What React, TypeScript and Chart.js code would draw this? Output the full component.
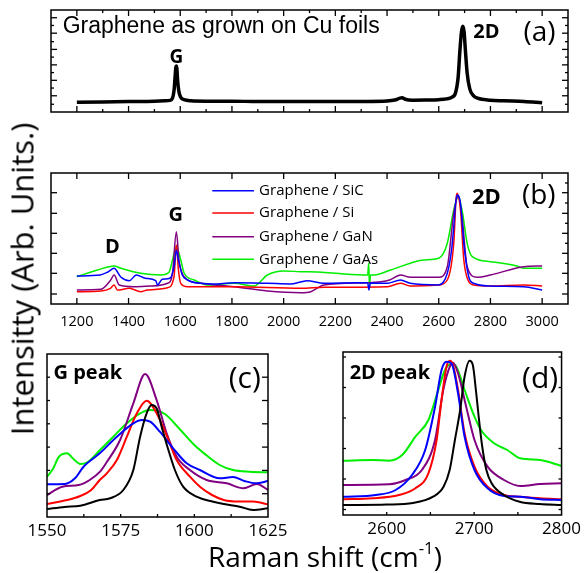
import React, { useEffect, useRef } from "react";
import { Chart, registerables } from "chart.js";

Chart.register(...registerables);

// ---------------- data (Raman shift in cm^-1, intensity in arbitrary units) ----------------
// (a) graphene as grown on Cu foils
const aCuShift = [1200, 1300, 1400, 1500, 1540, 1560, 1570, 1576, 1580, 1583, 1585, 1587, 1590, 1595, 1602, 1615, 1640, 1700, 1800, 1900, 2000, 2100, 2200, 2300, 2400, 2430, 2450, 2458, 2470, 2500, 2550, 2600, 2630, 2650, 2665, 2675, 2682, 2688, 2693, 2698, 2703, 2710, 2720, 2735, 2750, 2800, 2850, 2930, 3000];
const aCuInt = [12.5, 13, 13.5, 14, 14.5, 15, 18, 28, 45, 58, 59.5, 56, 40, 26, 19, 16, 14.5, 14, 14, 13.5, 13.5, 13.5, 13.5, 13.7, 14.3, 15.5, 18, 18.5, 16.5, 15.3, 15.5, 16, 17, 19, 25, 45, 80, 104, 111, 104, 80, 50, 30, 21, 18, 15.3, 14.5, 13.7, 12];

// (b) transferred graphene, full spectra
const bSiCShift = [1200, 1290, 1320, 1344, 1370, 1403, 1430, 1465, 1505, 1512, 1530, 1560, 1576, 1585, 1593, 1608, 1628, 1679, 1743, 1808, 1937, 2027, 2066, 2090, 2156, 2250, 2325, 2330, 2335, 2401, 2452, 2490, 2600, 2633, 2650, 2658, 2665, 2671, 2684, 2697, 2716, 2735, 2800, 2929, 3000];
const bSiCInt = [28, 29, 32, 35.7, 27, 23.3, 29, 25.7, 23.3, 19, 24.7, 25.7, 37.3, 54, 44, 29, 24, 20.7, 20, 21.3, 20.7, 20, 22, 23.3, 20.7, 21, 21.3, 14, 21, 20.7, 24, 20.7, 19, 30.7, 55, 77, 100, 109, 100.7, 60.7, 27.3, 20.7, 18, 17.3, 14];
const bSiShift = [1200, 1293, 1330, 1344, 1357, 1403, 1447, 1473, 1551, 1576, 1585, 1593, 1602, 1628, 1808, 2066, 2156, 2401, 2452, 2490, 2600, 2633, 2658, 2667, 2671, 2684, 2697, 2716, 2735, 2800, 2929, 3000];
const bSiInt = [12.3, 13, 15.7, 19, 14, 15.7, 12.3, 14, 16.3, 27.3, 59, 34, 20.7, 17.3, 17.3, 15.7, 16.7, 17.3, 20.7, 18, 19, 24, 60.7, 105, 110.7, 94, 44, 22.3, 19, 18, 19, 18];
const bGaNShift = [1200, 1293, 1331, 1344, 1364, 1421, 1486, 1551, 1570, 1585, 1595, 1615, 1679, 1808, 1937, 2066, 2105, 2156, 2330, 2410, 2452, 2490, 2600, 2633, 2658, 2675, 2690, 2710, 2748, 2800, 2929, 3000];
const bGaNInt = [14, 14.7, 24, 29, 19, 17.3, 18, 20.7, 30.7, 72.3, 44, 27.3, 20.7, 17.3, 13, 11.3, 12.3, 19, 21.3, 24, 29, 26.7, 26.7, 37.3, 90.7, 107.3, 87.3, 37.3, 26.7, 29, 37.3, 38];
const bGaAsShift = [1200, 1280, 1344, 1370, 1447, 1525, 1557, 1570, 1585, 1602, 1615, 1654, 1705, 1808, 1885, 1937, 2000, 2066, 2130, 2201, 2325, 2329, 2332, 2336, 2350, 2414, 2543, 2600, 2633, 2658, 2675, 2690, 2710, 2730, 2800, 2903, 2929, 3000];
const bGaAsInt = [27.3, 34, 38, 35.7, 30.7, 29, 32, 44, 57.3, 44, 31, 24, 19, 20.7, 18, 29, 33, 32.3, 32, 30.7, 29, 40.7, 17, 29, 29, 34, 44, 45.7, 60.7, 94, 107.3, 94, 60.7, 47.3, 42.3, 38, 35.7, 35.7];

// (c) G peak
const cCuShift = [1550, 1556, 1561.3, 1567.9, 1571.4, 1575.9, 1579.3, 1581.6, 1583.8, 1585.5, 1587.2, 1588.9, 1591.2, 1593.4, 1596.2, 1600.8, 1606.4, 1610, 1615.4, 1619.9, 1625];
const cCuInt = [8, 10, 11.3, 17, 18.7, 27, 47, 80.3, 103.7, 112, 108.7, 90.3, 67, 47, 30.3, 20.3, 15.3, 13, 10.3, 7, 8.7];
const cSiCShift = [1550, 1556, 1559.5, 1562.4, 1567.9, 1573.7, 1579.3, 1582.2, 1585, 1588.3, 1592.8, 1597.4, 1601.9, 1608.6, 1613.1, 1617, 1621, 1625];
const cSiCInt = [32.7, 33, 38.7, 50.3, 63.7, 80.3, 93.7, 97, 95.3, 85.3, 68.7, 53.7, 47, 38.7, 40, 36, 33.7, 36];
const cSiShift = [1550, 1556.8, 1561.3, 1565, 1567.9, 1570.3, 1573.7, 1577.1, 1580.5, 1583.8, 1587.8, 1591.2, 1594, 1598.5, 1602, 1606, 1610, 1615, 1620, 1625];
const cSiInt = [13, 17, 21, 27, 37, 43.7, 57, 80.3, 103.7, 116.3, 100.3, 77, 57, 40.3, 30, 22, 17, 15.5, 15.5, 12.7];
const cGaNShift = [1550, 1555.2, 1560.8, 1564.5, 1568, 1570.3, 1574.8, 1579.3, 1583.3, 1587.2, 1590.6, 1594, 1598.5, 1604.2, 1611, 1616.7, 1621.2, 1625];
const cGaNInt = [22, 30.3, 32, 37, 45.3, 55, 77, 113.7, 143, 117, 83.7, 60.3, 47, 37, 33.7, 28.7, 33, 27];
const cGaAsShift = [1550, 1552, 1554, 1556.8, 1559, 1561.3, 1563.5, 1568, 1572.5, 1577.1, 1581.6, 1585, 1590, 1595, 1600, 1604, 1608.6, 1613.1, 1618.8, 1625];
const cGaAsInt = [40.3, 48, 60, 63.7, 58, 53, 54.3, 67, 80.3, 93.7, 103.7, 107, 103, 88, 72, 62, 52, 47, 45.3, 44.7];

// (d) 2D peak
const dCuShift = [2550, 2600, 2630, 2653, 2665, 2672, 2678, 2684, 2689, 2694.8, 2698.5, 2702, 2705, 2709, 2714, 2720, 2734, 2752, 2775, 2800];
const dCuInt = [10, 10.5, 12, 18.3, 28.3, 45, 75, 105, 138, 154.3, 150, 125, 100, 70, 45, 31.7, 20, 13.3, 11, 10];
const dSiCShift = [2550, 2587.6, 2610.2, 2628.9, 2644, 2655.3, 2662.7, 2668.4, 2674, 2681.6, 2689.1, 2700.4, 2715.4, 2734.2, 2752.9, 2775.5, 2800];
const dSiCInt = [18.3, 20, 25, 40, 65, 108.3, 145, 153.3, 151.7, 121.7, 78.3, 45, 26.7, 19, 18.3, 15.7, 15];
const dSiShift = [2550, 2583.8, 2614, 2632.8, 2647.7, 2657.1, 2662.7, 2668.4, 2672.2, 2675.9, 2681.6, 2689.1, 2700.4, 2715.4, 2734.2, 2752.9, 2775.5, 2800];
const dSiInt = [15.7, 16.7, 20, 26.7, 41.7, 75, 115, 148.3, 154.3, 150, 125, 81.7, 48.3, 28.3, 20, 18.3, 16.7, 15.7];
const dGaNShift = [2550, 2602.7, 2621.5, 2640.2, 2655.3, 2664.7, 2672.2, 2675.9, 2681.6, 2690.9, 2700.4, 2715.4, 2734.2, 2752.9, 2775.5, 2800];
const dGaNInt = [30, 30.7, 35, 45, 75, 125, 148.3, 152.3, 141.7, 108.3, 75, 48.3, 35, 29, 31, 31.7];
const dGaAsShift = [2550, 2583.8, 2602.7, 2617.7, 2632.8, 2647.7, 2659, 2666.6, 2674, 2679.7, 2689.1, 2700.4, 2707.8, 2722.9, 2737.9, 2752.9, 2775.5, 2800];
const dGaAsInt = [54.3, 55, 54.3, 60, 78.3, 95, 125, 145, 151, 148.3, 125, 98.3, 85, 71.7, 65, 56.7, 55, 49];

// tick labels
const bTickLabels = [1200, 1400, 1600, 1800, 2000, 2200, 2400, 2600, 2800, 3000];
const cTickLabels = [1550, 1575, 1600, 1625];
const dTickLabels = [2600, 2700, 2800];

const legendNames = ["Graphene / SiC", "Graphene / Si", "Graphene / GaN", "Graphene / GaAs"];

// ---------------- styling ----------------
const BLACK = "#000000";
const BLUE = "#0000ff";
const RED = "#ff0000";
const PURPLE = "#800080";
const GREEN = "#00ee00";
const SANS = "'Open Sans', sans-serif";
const W = 585;
const H = 573;

const pts = (xs: number[], ys: number[]) => xs.map((x, i) => ({ x, y: ys[i] }));
const range = (a: number, b: number, s: number) => {
  const out: number[] = [];
  for (let v = a; v <= b + 1e-9; v += s) out.push(v);
  return out;
};

// frame + inward ticks, positioned through the chart scales
const framePlugin = {
  id: "frameTicks",
  afterDatasetsDraw(chart: any, _a: any, o: any) {
    const { ctx, chartArea: ca, scales } = chart;
    const xs = scales.x, ys = scales.y;
    ctx.save();
    ctx.strokeStyle = "#000";
    ctx.lineWidth = 1.5;
    ctx.strokeRect(ca.left, ca.top, ca.right - ca.left, ca.bottom - ca.top);
    ctx.lineWidth = 1.3;
    const line = (x1: number, y1: number, x2: number, y2: number) => {
      ctx.beginPath();
      ctx.moveTo(x1, y1);
      ctx.lineTo(x2, y2);
      ctx.stroke();
    };
    const drawX = (vals: number[] | undefined, len: number, top: boolean) => {
      (vals || []).forEach((v) => {
        const px = xs.getPixelForValue(v);
        line(px, ca.bottom, px, ca.bottom - len);
        if (top) line(px, ca.top, px, ca.top + len);
      });
    };
    const drawY = (vals: number[] | undefined, len: number, left: boolean) => {
      (vals || []).forEach((v) => {
        const py = ys.getPixelForValue(v);
        if (left) line(ca.left, py, ca.left + len, py);
        else line(ca.right, py, ca.right - len, py);
      });
    };
    drawX(o.xMajor, 6, !!o.xTop);
    drawX(o.xMinor, 3, !!o.xTop);
    drawY(o.yLeftMajor, 6, true);
    drawY(o.yLeftMinor, 3, true);
    drawY(o.yRightMajor, 6, false);
    drawY(o.yRightMinor, 3, false);
    ctx.restore();
  },
};

// text annotations placed in data coordinates
const textPlugin = {
  id: "panelText",
  afterDraw(chart: any, _a: any, o: any) {
    const { ctx, scales } = chart;
    ctx.save();
    (o.items || []).forEach((it: any) => {
      ctx.font = it.font;
      ctx.fillStyle = "#000";
      ctx.textAlign = it.align || "center";
      ctx.textBaseline = "middle";
      ctx.fillText(it.text, scales.x.getPixelForValue(it.x), scales.y.getPixelForValue(it.y));
    });
    ctx.restore();
  },
};

// legend with line samples, for panel (b)
const legendPlugin = {
  id: "lineLegend",
  afterDraw(chart: any, _a: any, o: any) {
    if (!o.show) return;
    const { ctx, scales } = chart;
    const sets = chart.data.datasets.filter((d: any) => d.label);
    ctx.save();
    ctx.font = o.font;
    ctx.textAlign = "left";
    ctx.textBaseline = "middle";
    sets.forEach((d: any, i: number) => {
      const py = scales.y.getPixelForValue(o.rows[i]);
      ctx.strokeStyle = d.borderColor;
      ctx.lineWidth = 1.5;
      ctx.beginPath();
      ctx.moveTo(scales.x.getPixelForValue(o.x1), py);
      ctx.lineTo(scales.x.getPixelForValue(o.x2), py);
      ctx.stroke();
      ctx.fillStyle = "#000";
      ctx.fillText(d.label, scales.x.getPixelForValue(o.tx), py);
    });
    ctx.restore();
  },
};

type Series = { label?: string; xs: number[]; ys: number[]; color: string; width: number };
type Spec = {
  area: [number, number, number, number];
  xMin: number;
  xMax: number;
  yMax: number;
  series: Series[];
  tickLabels?: number[];
  tickSize?: number;
  tickPad?: number;
  frame: any;
  texts: any[];
  legend?: any;
};

const AXIS_H = 30;

function buildConfig(s: Spec): any {
  const [L, T, R, B] = s.area;
  const showX = !!s.tickLabels;
  return {
    type: "line",
    data: {
      datasets: s.series.map((d) => ({
        label: d.label,
        data: pts(d.xs, d.ys),
        borderColor: d.color,
        backgroundColor: d.color,
        borderWidth: d.width,
        pointRadius: 0,
        fill: false,
        cubicInterpolationMode: "monotone",
      })),
    },
    options: {
      responsive: false,
      animation: false,
      events: [],
      layout: { padding: { left: L, top: T, right: W - R, bottom: H - B - (showX ? AXIS_H : 0) } },
      scales: {
        x: {
          type: "linear",
          min: s.xMin,
          max: s.xMax,
          display: showX,
          grid: { display: false, drawTicks: false },
          border: { display: false },
          ticks: {
            autoSkip: false,
            maxRotation: 0,
            color: "#000",
            padding: s.tickPad ?? 5,
            font: { family: SANS, size: s.tickSize ?? 15 },
            callback: (v: any) => String(v),
          },
          afterBuildTicks: (axis: any) => {
            if (s.tickLabels) axis.ticks = s.tickLabels.map((v) => ({ value: v }));
          },
          afterFit: (axis: any) => {
            axis.height = AXIS_H;
          },
        },
        y: { type: "linear", min: 0, max: s.yMax, display: false },
      },
      plugins: {
        legend: { display: false },
        tooltip: { enabled: false },
        frameTicks: s.frame,
        panelText: { items: s.texts },
        lineLegend: s.legend || { show: false },
      },
    },
    plugins: [framePlugin, textPlugin, legendPlugin],
  };
}

const specA: Spec = {
  area: [51, 10, 568, 142],
  xMin: 1100,
  xMax: 3100,
  yMax: 132,
  series: [{ xs: aCuShift, ys: aCuInt, color: BLACK, width: 3.5 }],
  frame: {
    xTop: true,
    xMajor: range(1200, 3000, 200),
    xMinor: range(1300, 2900, 200),
    yLeftMajor: [21, 41, 61, 81, 102, 122],
    yLeftMinor: [10, 31, 51, 71, 91, 112],
    yRightMajor: [21, 41, 61, 81, 102, 122],
    yRightMinor: [10, 31, 51, 71, 91, 112],
  },
  texts: [
    { text: "Graphene as grown on Cu foils", x: 1145, y: 110.3, align: "left", font: "23px 'Liberation Sans', Arial, sans-serif" },
    { text: "G", x: 1585, y: 70.3, font: `bold 19px ${SANS}` },
    { text: "2D", x: 2784, y: 103.7, font: `bold 20px ${SANS}` },
    { text: "(a)", x: 2990, y: 102, font: `28px ${SANS}` },
  ],
};

const specB: Spec = {
  area: [51, 173, 568, 304],
  xMin: 1100,
  xMax: 3100,
  yMax: 131,
  tickLabels: bTickLabels,
  tickSize: 14.5,
  tickPad: 9,
  series: [
    { label: legendNames[0], xs: bSiCShift, ys: bSiCInt, color: BLUE, width: 1.5 },
    { label: legendNames[1], xs: bSiShift, ys: bSiInt, color: RED, width: 1.5 },
    { label: legendNames[2], xs: bGaNShift, ys: bGaNInt, color: PURPLE, width: 1.5 },
    { label: legendNames[3], xs: bGaAsShift, ys: bGaAsInt, color: GREEN, width: 1.5 },
  ],
  frame: {
    xTop: true,
    xMajor: range(1200, 3000, 200),
    yLeftMajor: [10, 30.7, 50.7, 70.7, 90.7, 111.3],
    yRightMajor: [10, 30.7, 50.7, 70.7, 90.7, 111.3],
    yRightMinor: [20.3, 40.7, 60.7, 80.7, 101, 121],
  },
  texts: [
    { text: "D", x: 1338, y: 57, font: `bold 20px ${SANS}` },
    { text: "G", x: 1583, y: 89, font: `bold 20px ${SANS}` },
    { text: "2D", x: 2784, y: 106.7, font: `bold 22px ${SANS}` },
    { text: "(b)", x: 2987, y: 108, font: `28px ${SANS}` },
  ],
  legend: { show: true, x1: 1724, x2: 1885, tx: 1905, rows: [113.3, 91, 67.3, 44.7], font: `15px ${SANS}` },
};

const specC: Spec = {
  area: [47, 354, 268, 517],
  xMin: 1550,
  xMax: 1625,
  yMax: 163,
  tickLabels: cTickLabels,
  tickSize: 17,
  tickPad: 4,
  series: [
    { xs: cCuShift, ys: cCuInt, color: BLACK, width: 2 },
    { xs: cSiCShift, ys: cSiCInt, color: BLUE, width: 2 },
    { xs: cSiShift, ys: cSiInt, color: RED, width: 2 },
    { xs: cGaNShift, ys: cGaNInt, color: PURPLE, width: 2 },
    { xs: cGaAsShift, ys: cGaAsInt, color: GREEN, width: 2 },
  ],
  frame: {
    xMinor: range(1562.5, 1612.5, 12.5),
    yLeftMinor: [23.3, 46.6, 69.9, 93.2, 116.5, 139.8],
    yRightMajor: [23.3, 46.6, 69.9, 93.2, 116.5, 139.8],
  },
  texts: [
    { text: "G peak", x: 1552.2, y: 144, align: "left", font: `bold 20px ${SANS}` },
    { text: "(c)", x: 1617.1, y: 137.7, font: `30px ${SANS}` },
  ],
};

const specD: Spec = {
  area: [343, 352, 566, 515],
  xMin: 2550,
  xMax: 2800,
  yMax: 163,
  tickLabels: dTickLabels,
  tickSize: 17,
  tickPad: 4,
  series: [
    { xs: dCuShift, ys: dCuInt, color: BLACK, width: 2 },
    { xs: dSiCShift, ys: dSiCInt, color: BLUE, width: 2 },
    { xs: dSiShift, ys: dSiInt, color: RED, width: 2 },
    { xs: dGaNShift, ys: dGaNInt, color: PURPLE, width: 2 },
    { xs: dGaAsShift, ys: dGaAsInt, color: GREEN, width: 2 },
  ],
  frame: {
    xMinor: range(2600, 2750, 50),
    yLeftMinor: [5.5, 36, 66.5, 97, 127.5, 158],
    yRightMinor: [5.5, 36, 66.5, 97, 127.5, 158],
  },
  texts: [
    { text: "2D peak", x: 2557.6, y: 141.7, align: "left", font: `bold 20px ${SANS}` },
    { text: "(d)", x: 2775.5, y: 135.7, font: `30px ${SANS}` },
  ],
};

function Panel({ spec }: { spec: Spec }) {
  const ref = useRef<HTMLCanvasElement>(null);
  useEffect(() => {
    const chart = new Chart(ref.current as HTMLCanvasElement, buildConfig(spec));
    return () => chart.destroy();
  }, [spec]);
  return (
    <canvas
      ref={ref}
      width={W}
      height={H}
      style={{ position: "absolute", left: 0, top: 0, width: W, height: H }}
    />
  );
}

export default function App() {
  return (
    <div style={{ position: "absolute", left: 0, top: 0, width: W, height: H, background: "#fff", overflow: "hidden" }}>
      <Panel spec={specA} />
      <Panel spec={specB} />
      <Panel spec={specC} />
      <Panel spec={specD} />
      <div
        style={{
          position: "absolute",
          left: 22,
          top: 279,
          transform: "translate(-50%, -50%) rotate(-90deg)",
          whiteSpace: "nowrap",
          fontFamily: SANS,
          fontSize: 31,
          lineHeight: 1,
          color: "#000",
        }}
      >
        Intensitty (Arb. Units.)
      </div>
      <div
        style={{
          position: "absolute",
          left: 325,
          top: 556,
          transform: "translate(-50%, -50%)",
          whiteSpace: "nowrap",
          fontFamily: SANS,
          fontSize: 28,
          lineHeight: 1,
          color: "#000",
        }}
      >
        Raman shift (cm
        <span style={{ fontSize: "0.6em", position: "relative", top: "-0.75em" }}>-1</span>)
      </div>
    </div>
  );
}
